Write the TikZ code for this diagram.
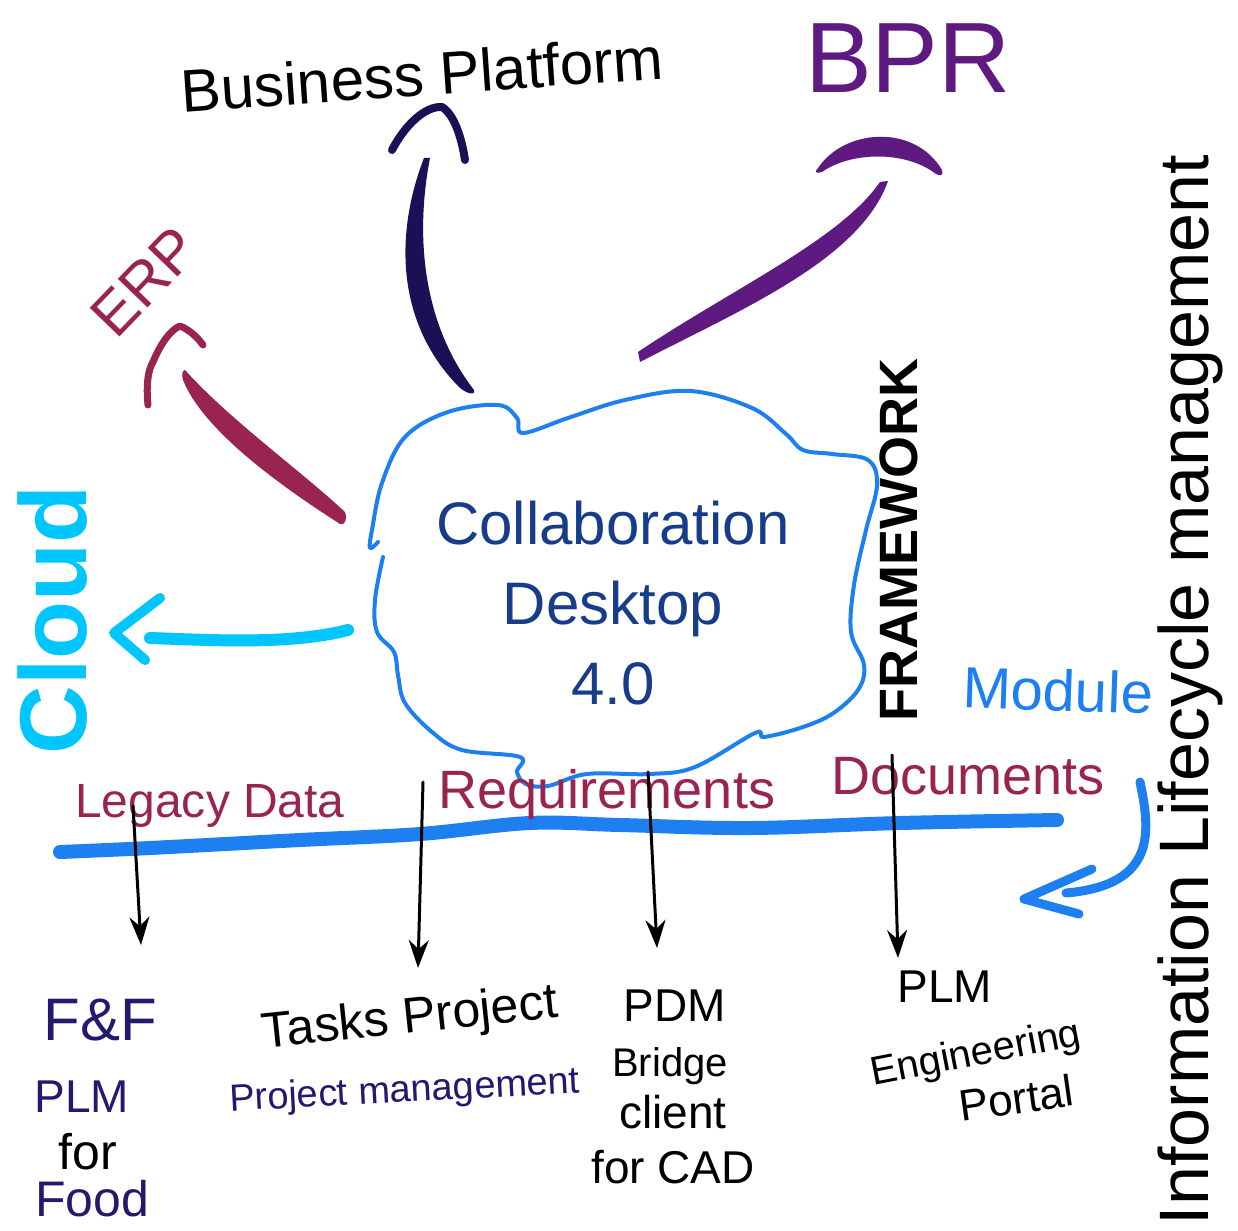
\documentclass[tikz,border=0pt]{standalone}
\usepackage{fontspec}
\setmainfont{Liberation Sans}
\usetikzlibrary{arrows.meta}
\definecolor{cloudblue}{HTML}{1E80F0}
\definecolor{cyanc}{HTML}{00C6FF}
\definecolor{crim}{HTML}{9A2450}
\definecolor{bprp}{HTML}{5E1A80}
\definecolor{navyb}{HTML}{1C0F55}
\definecolor{textblue}{HTML}{173C8A}
\definecolor{inkn}{HTML}{211A6E}
\tikzset{
  fs/.style={font=\fontsize{#1}{#1}\selectfont},
  lbl/.style={inner sep=0pt, outer sep=0pt},
  pin/.style={line width=3pt, black, line cap=round, -{Stealth[length=28pt,width=20pt]}},
  stroke/.style={line cap=round, line join=round},
}
\begin{document}
\begin{tikzpicture}[x=1pt,y=-1pt]
\useasboundingbox (0,0) rectangle (1238,1230);
\fill[white] (0,0) rectangle (1238,1230);

% ---------- cloud outline ----------
\draw[cloudblue, line width=4pt, stroke] plot[smooth, tension=0.6] coordinates {
 (383,557) (375,600) (377,632) (394,652) (398,675) (405,703) (432,732) (462,750) (520,757)
 (517,772) (526,784) (548,786) (587,774) (650,774) (695,767) (755,733) (764,737)
 (800,728) (832,714) (858,690) (864,665) (851,632) (854,585) (866,530) (877,485)
 (868,460) (832,454) (803,450) (786,434) (752,408) (690,391) (625,400) (568,418)
 (523,433) (517,418) (498,405) (448,412) (405,437) (382,483) (372,530) (370,548) (378,542)};
\node[lbl, textblue, align=center, font=\fontsize{60}{80}\selectfont] (cd) at (613,603) {Collaboration\\Desktop\\4.0};

% ---------- top labels ----------
\node[lbl, fs=60, rotate=4] (bp) at (422,74) {Business Platform};
\node[lbl, fs=100, bprp] (bpr) at (908,58) {BPR};
\node[lbl, fs=60, crim, rotate=46] (erp) at (145,282) {ERP};

% Business Platform arrow (navy)
\coordinate (bpTop) at (430,158);
\coordinate (bpBot) at (474,390);
\fill[navyb] (424,158) .. controls (396,230) and (394,320) .. (458,386)
  .. controls (466,394) and (476,396) .. (bpBot)
  .. controls (420,320) and (416,230) .. (bpTop) -- cycle;
\draw[navyb, line width=8pt, stroke] (392,150) .. controls (405,125) and (425,106) .. (442,107)
  .. controls (455,115) and (462,140) .. (465,160);

% BPR arrow (purple)
\coordinate (bprBot) at (640,357);
\coordinate (bprTop) at (886,180);
\fill[bprp] (640,362) .. controls (740,310) and (860,260) .. (888,181)
  -- (880,182) .. controls (840,240) and (730,290) .. (638,352) -- cycle;
\fill[bprp] (818,168) .. controls (845,128) and (915,124) .. (942,170)
  .. controls (944,176) and (940,176) .. (936,174)
  .. controls (905,150) and (850,152) .. (822,172) .. controls (816,174) and (814,172) .. (818,168) -- cycle;

% ERP arrow (crimson)
\coordinate (erpTop) at (185,372);
\coordinate (erpBot) at (342,518);
\fill[crim] (185,370) .. controls (230,420) and (300,470) .. (345,512)
  .. controls (348,520) and (344,526) .. (340,524)
  .. controls (295,495) and (205,435) .. (183,380) .. controls (181,374) and (183,370) .. (185,370) -- cycle;
\draw[crim, line width=7pt, stroke] (148,405) .. controls (146,385) and (148,370) .. (153,362)
  .. controls (160,345) and (170,330) .. (180,326) .. controls (190,330) and (198,338) .. (203,345);

% Cloud arrow (cyan)
\node[lbl, cyanc, rotate=90, font=\fontsize{95}{95}\selectfont\bfseries] (cloudlbl) at (53,620) {Cloud};
\coordinate (cyR) at (348,630);
\coordinate (cyL) at (150,638);
\draw[cyanc, line width=12pt, stroke] (cyR) .. controls (290,645) and (210,640) .. (cyL);
\draw[cyanc, line width=10pt, stroke] (160,598) -- (114,633) -- (145,660);

% FRAMEWORK, Module, Information Lifecycle management
\node[lbl, rotate=90, font=\fontsize{54}{54}\selectfont\bfseries] (fw) at (899,540) {FRAMEWORK};
\node[lbl, fs=58, cloudblue, rotate=-2] (mod) at (1058,690) {Module};
\node[lbl, fs=70, rotate=90] (ilm) at (1190,690) {Information Lifecycle management};

% Module arrow (blue)
\coordinate (mTop) at (1140,782);
\coordinate (mEnd) at (1066,893);
\draw[cloudblue, line width=9pt, stroke] (mTop) .. controls (1150,830) and (1158,885) .. (mEnd);
\draw[cloudblue, line width=9pt, stroke] (1092,869) -- (1024,899) -- (1079,914);

% ---------- baseline bar ----------
\draw[cloudblue, line width=14pt, stroke] plot[smooth, tension=0.6] coordinates {
 (60,852) (150,848) (300,840) (420,834) (530,823) (620,825) (750,828) (900,823) (1057,820)};

\node[lbl, fs=48, crim, anchor=base] (legacy) at (210,817) {Legacy Data};
\node[lbl, fs=54, crim, anchor=base] (req) at (607,808) {Requirements};
\node[lbl, fs=54, crim, anchor=base] (docs) at (968,794) {Documents};

% ---------- vertical arrows ----------
\coordinate (t1) at (133,806);
\coordinate (h1) at (141,945);
\coordinate (t2) at (423,782);
\coordinate (h2) at (418,968);
\coordinate (t3) at (648,772);
\coordinate (h3) at (657,948);
\coordinate (t4) at (892,755);
\coordinate (h4) at (898,958);
\draw[pin] (t1) -- (h1);
\draw[pin] (t2) -- (h2);
\draw[pin] (t3) -- (h3);
\draw[pin] (t4) -- (h4);

% ---------- bottom labels ----------
\node[lbl, fs=60, inkn] (ff) at (100,1020) {F\&F};
\node[lbl, fs=46, inkn] (plmA) at (82,1097) {PLM};
\node[lbl, fs=50] (forA) at (88,1152) {for};
\node[lbl, fs=50, inkn] (food) at (92,1199) {Food};

\node[lbl, fs=50, rotate=6] (tasks) at (410,1020) {Tasks Project};
\node[lbl, fs=38, inkn, rotate=3] (pm) at (405,1092) {Project management};

\node[lbl, fs=46] (pdm) at (675,1006) {PDM};
\node[lbl, fs=40] (bridge) at (670,1066) {Bridge};
\node[lbl, fs=46] (client) at (673,1112) {client};
\node[lbl, fs=46] (forcad) at (673,1167) {for CAD};

\node[lbl, fs=46] (plmB) at (945,987) {PLM};
\node[lbl, fs=40, rotate=11] (eng) at (976,1055) {Engineering};
\node[lbl, fs=44, rotate=8] (portal) at (1016,1098) {Portal};
\end{tikzpicture}
\end{document}
